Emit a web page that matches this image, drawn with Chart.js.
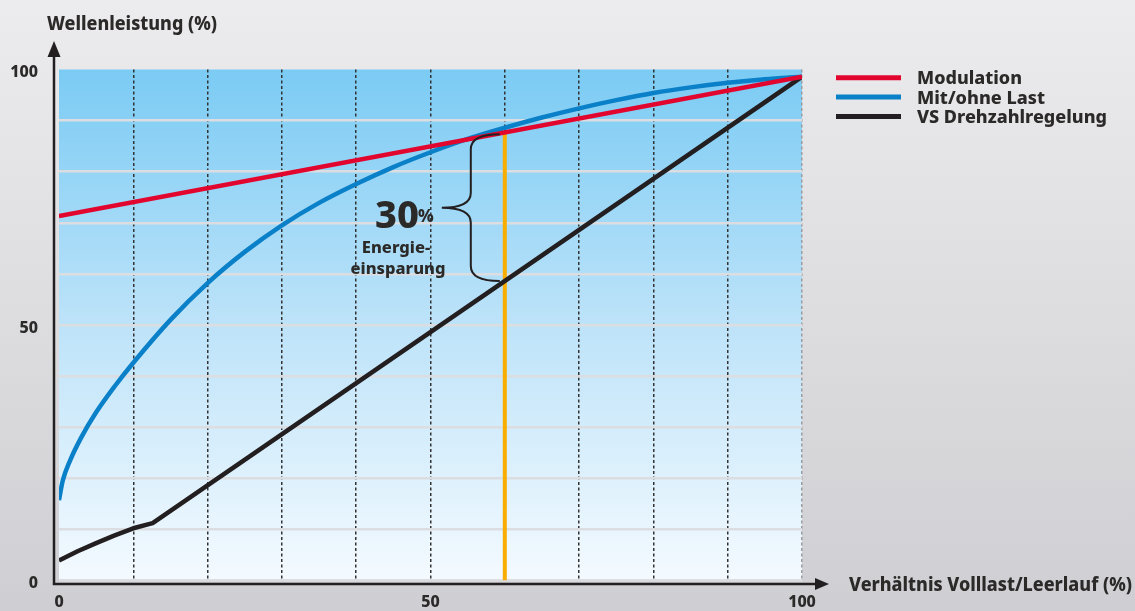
<!DOCTYPE html>
<html lang="de">
<head>
<meta charset="utf-8">
<title>Wellenleistung</title>
<script src="https://cdn.jsdelivr.net/npm/chart.js@4.4.1/dist/chart.umd.min.js"></script>
<style>
  html, body { margin: 0; padding: 0; background: #e2e2e5; }
  #wrap { position: relative; width: 1135px; height: 611px; }
</style>
</head>
<body>
<div id="wrap"><canvas id="c" width="1135" height="611"></canvas></div>
<script>
// Series names and colours
const seriesNames = ['Modulation', 'Mit/ohne Last', 'VS Drehzahlregelung'];
const seriesColors = ['#e2062f', '#0a80c8', '#231f20'];

// Modulation: straight line
const modulationX = [0, 100];
const modulationY = [71.3, 98.6];

// Mit/ohne Last: curved
const lastX = [0, 0.5, 1.5, 3, 5, 7.5, 10, 15, 20, 25, 30, 35, 40, 45, 50, 55, 60, 65, 70, 75, 80, 85, 90, 95, 100];
const lastY = [15.7, 19.5, 23.5, 28, 32.9, 38, 42.6, 51, 58.2, 64.3, 69.5, 73.9, 77.6, 80.9, 83.8, 86.4, 88.6, 90.6, 92.4, 94, 95.4, 96.5, 97.4, 98.1, 98.6];

// VS Drehzahlregelung: short curve, then straight to full load
const vsX = [0, 2.5, 5, 7.5, 10, 12.6, 100];
const vsY = [3.9, 5.7, 7.3, 8.8, 10.2, 11.2, 98.6];

// Operating point marker and saving annotation
const markerX = 60;
const markerTop = 87.7;     // Modulation at 60 %
const markerBottom = 58.6;  // VS Drehzahlregelung at 60 %
const savingValue = '30';
const savingUnit = '%';
const savingText = ['Energie-', 'einsparung'];

// Axis labels
const xTitle = 'Verhältnis Volllast/Leerlauf (%)';
const yTitle = 'Wellenleistung (%)';
const labeledTicks = [0, 50, 100];

const FONT = '"Noto Sans", "Open Sans", sans-serif';
const W = 800;
const INK = '#2b2a29';

const pts = (xs, ys) => xs.map((x, i) => ({ x, y: ys[i] }));

const decor = {
  id: 'decor',
  beforeDraw(chart) {
    const { ctx, chartArea: a, width, height } = chart;
    ctx.save();
    let g = ctx.createLinearGradient(0, 0, 0, height);
    g.addColorStop(0, '#ececee');
    g.addColorStop(1, '#cfcfd3');
    ctx.fillStyle = g;
    ctx.fillRect(0, 0, width, height);
    g = ctx.createLinearGradient(0, a.top, 0, a.bottom);
    g.addColorStop(0, '#7bcbf4');
    g.addColorStop(0.5, '#bde3f9');
    g.addColorStop(1, '#f4faff');
    ctx.fillStyle = g;
    ctx.fillRect(a.left, a.top, a.right - a.left, a.bottom - a.top);
    ctx.restore();
  },
  afterDraw(chart) {
    const { ctx, chartArea: a, scales } = chart;
    const xs = scales.x, ys = scales.y;
    ctx.save();

    // axes with arrow heads
    const ax = a.left - 5, ay = a.bottom + 3.5;
    ctx.strokeStyle = '#231f20';
    ctx.fillStyle = '#231f20';
    ctx.lineWidth = 2.5;
    ctx.beginPath();
    ctx.moveTo(ax, ay + 1.2);
    ctx.lineTo(ax, 52);
    ctx.moveTo(ax - 1.2, ay);
    ctx.lineTo(a.right + 16, ay);
    ctx.stroke();
    ctx.beginPath();
    ctx.moveTo(ax, 41); ctx.lineTo(ax - 6.5, 57); ctx.lineTo(ax + 6.5, 57); ctx.closePath();
    ctx.fill();
    ctx.beginPath();
    ctx.moveTo(a.right + 27, ay); ctx.lineTo(a.right + 13, ay - 6); ctx.lineTo(a.right + 13, ay + 6); ctx.closePath();
    ctx.fill();

    // axis titles
    ctx.fillStyle = INK;
    ctx.textBaseline = 'alphabetic';
    ctx.textAlign = 'left';
    ctx.font = `${W} 19px ${FONT}`;
    ctx.fillText(yTitle, 47, 30, 170);
    ctx.fillText(xTitle, 849, 591, 283);

    // legend
    ctx.font = `${W} 18.5px ${FONT}`;
    const legendWidths = [105, 128, 190];
    seriesNames.forEach((name, i) => {
      const y = 77.7 + 19.4 * i;
      ctx.strokeStyle = seriesColors[i];
      ctx.lineWidth = 5;
      ctx.beginPath();
      ctx.moveTo(836, y);
      ctx.lineTo(901, y);
      ctx.stroke();
      ctx.fillStyle = INK;
      ctx.fillText(name, 917, y + 6.5, legendWidths[i]);
    });

    // brace between Modulation and VS Drehzahlregelung at the operating point
    const x0 = xs.getPixelForValue(markerX) - 5;
    const xsp = x0 - 29, xt = x0 - 58;
    const yT = ys.getPixelForValue(markerTop) + 2;
    const yB = ys.getPixelForValue(markerBottom);
    const yM = (yT + yB) / 2;
    const r = 15;
    ctx.strokeStyle = '#231f20';
    ctx.lineWidth = 2;
    ctx.beginPath();
    ctx.moveTo(x0, yT);
    ctx.quadraticCurveTo(xsp, yT, xsp, yT + r);
    ctx.lineTo(xsp, yM - r);
    ctx.quadraticCurveTo(xsp, yM, xt, yM);
    ctx.quadraticCurveTo(xsp, yM, xsp, yM + r);
    ctx.lineTo(xsp, yB - r);
    ctx.quadraticCurveTo(xsp, yB, x0, yB);
    ctx.stroke();

    // saving annotation
    ctx.fillStyle = INK;
    ctx.textAlign = 'right';
    ctx.font = `${W} 38px ${FONT}`;
    ctx.fillText(savingValue, 419, 228, 48);
    ctx.textAlign = 'left';
    ctx.font = `${W} 17px ${FONT}`;
    ctx.fillText(savingUnit, 418, 222);
    ctx.textAlign = 'center';
    ctx.font = `${W} 16.5px ${FONT}`;
    ctx.fillText(savingText[0], 396, 253, 70);
    ctx.fillText(savingText[1], 398, 274, 101);

    ctx.restore();
  }
};

new Chart(document.getElementById('c'), {
  type: 'line',
  data: {
    datasets: [
      { label: seriesNames[0], data: pts(modulationX, modulationY), borderColor: seriesColors[0], borderWidth: 4.5, pointRadius: 0, tension: 0 },
      { label: seriesNames[1], data: pts(lastX, lastY), borderColor: seriesColors[1], borderWidth: 4.5, pointRadius: 0, cubicInterpolationMode: 'monotone' },
      { label: seriesNames[2], data: pts(vsX, vsY), borderColor: seriesColors[2], borderWidth: 4.5, pointRadius: 0, tension: 0, borderJoinStyle: 'round' },
      { label: 'Betriebspunkt', data: [{ x: markerX, y: 0 }, { x: markerX, y: markerTop }], borderColor: '#f8ad00', borderWidth: 4, pointRadius: 0 }
    ]
  },
  options: {
    responsive: false,
    animation: false,
    layout: { padding: { top: 69.5, right: 333, left: 0, bottom: 0 } },
    plugins: { legend: { display: false }, tooltip: { enabled: false } },
    scales: {
      x: {
        type: 'linear', min: 0, max: 100,
        afterFit: s => { s.height = 28.5; },
        ticks: {
          stepSize: 10, autoSkip: false, maxRotation: 0, padding: 12,
          color: INK, font: { family: FONT, weight: W, size: 16 },
          callback: v => labeledTicks.includes(v) ? String(v) : ''
        },
        grid: {
          drawTicks: false, lineWidth: 1.5,
          color: c => c.tick && c.tick.value === 0 ? 'rgba(0,0,0,0)' : (c.tick && c.tick.value === 100 ? '#9b9ca0' : '#333333')
        },
        border: { display: false, dash: [3, 2.5] }
      },
      y: {
        type: 'linear', min: 0, max: 100,
        afterFit: s => { s.width = 59; },
        ticks: {
          stepSize: 10, autoSkip: false, padding: 21, labelOffset: 3,
          color: INK, font: { family: FONT, weight: W, size: 16 },
          callback: v => labeledTicks.includes(v) ? String(v) : ''
        },
        grid: {
          drawTicks: false, lineWidth: 2.5,
          color: c => c.tick && c.tick.value === 100 ? 'rgba(0,0,0,0)' : '#dcdde1'
        },
        border: { display: false }
      }
    }
  },
  plugins: [decor]
});
</script>
</body>
</html>
